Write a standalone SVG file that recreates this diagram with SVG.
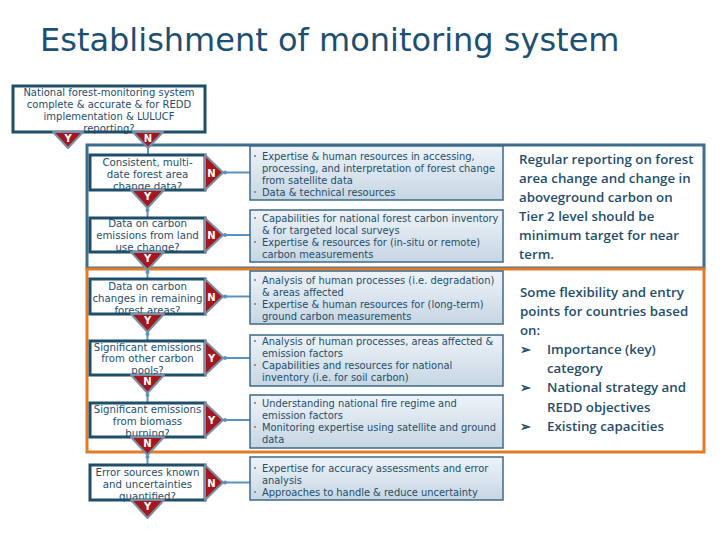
<svg xmlns="http://www.w3.org/2000/svg" width="720" height="540" viewBox="0 0 720 540">
<defs>
<linearGradient id="g" x1="0" y1="0" x2="0" y2="1">
<stop offset="0" stop-color="#eef3f8"/>
<stop offset="1" stop-color="#c6d6e3"/>
</linearGradient>
<style>
.t{font-family:"DejaVu Sans",Verdana,sans-serif;font-size:9.9px;fill:#1f4e6b}
.s{font-family:"DejaVu Sans",Verdana,sans-serif;font-size:10.2px;fill:#1f4e6b;text-anchor:middle}
.h{font-family:"DejaVu Sans",Verdana,sans-serif;font-size:10px;fill:#1f4e6b;text-anchor:middle}
.q{fill:#fff;stroke:#1f4e6b;stroke-width:3}
.m{fill:url(#g);stroke:#3e6a85;stroke-width:1.5}
.tri{fill:#a5161f;stroke:#7890a5;stroke-width:2;stroke-linejoin:round}
.yn{font-family:"DejaVu Sans",Verdana,sans-serif;font-size:10px;font-weight:bold;fill:#fff;text-anchor:middle}
.ln{stroke:#5b92bd;stroke-width:2;fill:none}
.dot{fill:#5b92bd}
.r{font-family:"Open Sans","Noto Sans",sans-serif;font-size:13.3px;font-weight:600;fill:#1f4e6b}
.b{fill:#8797a5}
</style>
</defs>
<rect width="720" height="540" fill="#fff"/>
<text x="40" y="51" font-family="DejaVu Sans, Verdana, sans-serif" font-size="32" fill="#1d4f72">Establishment of monitoring system</text>

<g id="frames">
<rect x="87" y="145" width="617" height="123" fill="none" stroke="#3f6d8c" stroke-width="3"/>
<rect x="87" y="269" width="617" height="183" fill="none" stroke="#e07c28" stroke-width="3"/>
</g>

<g id="connectors">
<line class="ln" x1="148" y1="148" x2="148" y2="155"/>
<line class="ln" x1="147.5" y1="208" x2="147.5" y2="218"/>
<line class="ln" x1="147.5" y1="270" x2="147.5" y2="279"/>
<line class="ln" x1="147.5" y1="332" x2="147.5" y2="341"/>
<line class="ln" x1="147.5" y1="393" x2="147.5" y2="403"/>
<line class="ln" x1="147.5" y1="455" x2="147.5" y2="465"/>
<circle class="dot" cx="147.5" cy="210" r="2"/>
<circle class="dot" cx="147.5" cy="272" r="2"/>
<circle class="dot" cx="147.5" cy="334" r="2"/>
<circle class="dot" cx="147.5" cy="395" r="2"/>
<circle class="dot" cx="147.5" cy="457" r="2"/>
<line class="ln" x1="223" y1="172.5" x2="250" y2="172.5"/>
<line class="ln" x1="223" y1="235" x2="250" y2="235"/>
<line class="ln" x1="223" y1="296.5" x2="250" y2="296.5"/>
<line class="ln" x1="223" y1="358" x2="250" y2="358"/>
<line class="ln" x1="223" y1="420" x2="250" y2="420"/>
<line class="ln" x1="223" y1="482.5" x2="250" y2="482.5"/>
<circle class="dot" cx="225" cy="172.5" r="2"/>
<circle class="dot" cx="225" cy="235" r="2"/>
<circle class="dot" cx="225" cy="296.5" r="2"/>
<circle class="dot" cx="225" cy="358" r="2"/>
<circle class="dot" cx="225" cy="420" r="2"/>
<circle class="dot" cx="225" cy="482.5" r="2"/>
</g>

<g id="q0">
<rect class="q" x="13" y="86" width="192" height="46"/>
<text class="h" x="109" y="96">National forest-monitoring system</text>
<text class="h" x="109" y="108">complete &amp; accurate &amp; for REDD</text>
<text class="h" x="109" y="120">implementation &amp; LULUCF</text>
<text class="h" x="109" y="132">reporting?</text>
<polygon class="tri" points="53,132 83,132 68,148"/>
<text class="yn" x="68" y="142">Y</text>
<polygon class="tri" points="133,132 163,132 148,148"/>
<text class="yn" x="148" y="142">N</text>
</g>

<g id="q1">
<rect class="q" x="90" y="155" width="115" height="35"/>
<text class="s" x="147.5" y="166">Consistent, multi-</text>
<text class="s" x="147.5" y="178">date forest area</text>
<text class="s" x="147.5" y="190">change data?</text>
<polygon class="tri" points="205,155 205,190 223,172.5"/>
<text class="yn" x="211.5" y="176.5">N</text>
<polygon class="tri" points="131,190 164,190 147.5,208"/>
<text class="yn" x="147.5" y="200">Y</text>
</g>

<g id="q2">
<rect class="q" x="90" y="218" width="115" height="34"/>
<text class="s" x="147.5" y="227">Data on carbon</text>
<text class="s" x="147.5" y="239">emissions from land</text>
<text class="s" x="147.5" y="251">use change?</text>
<polygon class="tri" points="205,218 205,252 223,235"/>
<text class="yn" x="211.5" y="239">N</text>
<polygon class="tri" points="131,252 164,252 147.5,270"/>
<text class="yn" x="147.5" y="262">Y</text>
</g>

<g id="q3">
<rect class="q" x="90" y="279" width="115" height="35"/>
<text class="s" x="147.5" y="290">Data on carbon</text>
<text class="s" x="147.5" y="302">changes in remaining</text>
<text class="s" x="147.5" y="314">forest areas?</text>
<polygon class="tri" points="205,279 205,314 223,296.5"/>
<text class="yn" x="211.5" y="300.5">N</text>
<polygon class="tri" points="131,314 164,314 147.5,332"/>
<text class="yn" x="147.5" y="324">Y</text>
</g>

<g id="q4">
<rect class="q" x="90" y="341" width="115" height="34"/>
<text class="s" x="147.5" y="351">Significant emissions</text>
<text class="s" x="147.5" y="362">from other carbon</text>
<text class="s" x="147.5" y="374">pools?</text>
<polygon class="tri" points="205,341 205,375 223,358"/>
<text class="yn" x="211.5" y="362">Y</text>
<polygon class="tri" points="131,375 164,375 147.5,393"/>
<text class="yn" x="147.5" y="385">N</text>
</g>

<g id="q5">
<rect class="q" x="90" y="403" width="115" height="34"/>
<text class="s" x="147.5" y="413">Significant emissions</text>
<text class="s" x="147.5" y="425">from biomass</text>
<text class="s" x="147.5" y="437">burning?</text>
<polygon class="tri" points="205,403 205,437 223,420"/>
<text class="yn" x="211.5" y="424">Y</text>
<polygon class="tri" points="131,437 164,437 147.5,455"/>
<text class="yn" x="147.5" y="447">N</text>
</g>

<g id="q6">
<rect class="q" x="90" y="465" width="115" height="35"/>
<text class="s" x="147.5" y="476">Error sources known</text>
<text class="s" x="147.5" y="488">and uncertainties</text>
<text class="s" x="147.5" y="500">quantified?</text>
<polygon class="tri" points="205,465 205,500 223,482.5"/>
<text class="yn" x="211.5" y="486.5">N</text>
<polygon class="tri" points="131,500 164,500 147.5,518"/>
<text class="yn" x="147.5" y="510">Y</text>
</g>

<g id="m1">
<rect class="m" x="250" y="146" width="253" height="54"/>
<rect class="b" x="254" y="155" width="2" height="2"/><text class="t" x="262" y="160">Expertise &amp; human resources in accessing,</text>
<text class="t" x="262" y="172">processing, and interpretation of forest change</text>
<text class="t" x="262" y="184">from satellite data</text>
<rect class="b" x="254" y="191" width="2" height="2"/><text class="t" x="262" y="196">Data &amp; technical resources</text>
</g>

<g id="m2">
<rect class="m" x="250" y="210" width="253" height="52"/>
<rect class="b" x="254" y="217" width="2" height="2"/><text class="t" x="262" y="222">Capabilities for national forest carbon inventory</text>
<text class="t" x="262" y="234">&amp; for targeted local surveys</text>
<rect class="b" x="254" y="241" width="2" height="2"/><text class="t" x="262" y="246">Expertise &amp; resources for (in-situ or remote)</text>
<text class="t" x="262" y="258">carbon measurements</text>
</g>

<g id="m3">
<rect class="m" x="250" y="271" width="253" height="53"/>
<rect class="b" x="254" y="279" width="2" height="2"/><text class="t" x="262" y="284">Analysis of human processes (i.e. degradation)</text>
<text class="t" x="262" y="296">&amp; areas affected</text>
<rect class="b" x="254" y="303" width="2" height="2"/><text class="t" x="262" y="308">Expertise &amp; human resources for  (long-term)</text>
<text class="t" x="262" y="320">ground carbon measurements</text>
</g>

<g id="m4">
<rect class="m" x="250" y="335" width="253" height="51"/>
<rect class="b" x="254" y="340" width="2" height="2"/><text class="t" x="262" y="345">Analysis of human processes, areas affected &amp;</text>
<text class="t" x="262" y="357">emission factors</text>
<rect class="b" x="254" y="364" width="2" height="2"/><text class="t" x="262" y="369">Capabilities and resources for national</text>
<text class="t" x="262" y="381">inventory (i.e. for soil carbon)</text>
</g>

<g id="m5">
<rect class="m" x="250" y="395" width="253" height="53"/>
<rect class="b" x="254" y="402" width="2" height="2"/><text class="t" x="262" y="407">Understanding national fire regime and</text>
<text class="t" x="262" y="419">emission factors</text>
<rect class="b" x="254" y="426" width="2" height="2"/><text class="t" x="262" y="431">Monitoring expertise using satellite and ground</text>
<text class="t" x="262" y="443">data</text>
</g>

<g id="m6">
<rect class="m" x="250" y="457" width="253" height="43"/>
<rect class="b" x="254" y="467" width="2" height="2"/><text class="t" x="262" y="472">Expertise for accuracy assessments and error</text>
<text class="t" x="262" y="484">analysis</text>
<rect class="b" x="254" y="491" width="2" height="2"/><text class="t" x="262" y="496">Approaches to handle &amp; reduce uncertainty</text>
</g>

<g id="note1">
<text class="r" x="519" y="164">Regular reporting on forest</text>
<text class="r" x="519" y="183">area change and change in</text>
<text class="r" x="519" y="202">aboveground carbon on</text>
<text class="r" x="519" y="221">Tier 2 level should be</text>
<text class="r" x="519" y="240">minimum target for near</text>
<text class="r" x="519" y="259">term.</text>
</g>

<g id="note2">
<text class="r" x="520" y="297">Some flexibility and entry</text>
<text class="r" x="520" y="316">points for countries based</text>
<text class="r" x="520" y="335">on:</text>
<text class="r" x="520" y="354">➢</text><text class="r" x="547" y="354">Importance (key)</text>
<text class="r" x="547" y="373">category</text>
<text class="r" x="520" y="392">➢</text><text class="r" x="547" y="392">National strategy and</text>
<text class="r" x="547" y="412">REDD objectives</text>
<text class="r" x="520" y="431">➢</text><text class="r" x="547" y="431">Existing capacities</text>
</g>
</svg>
